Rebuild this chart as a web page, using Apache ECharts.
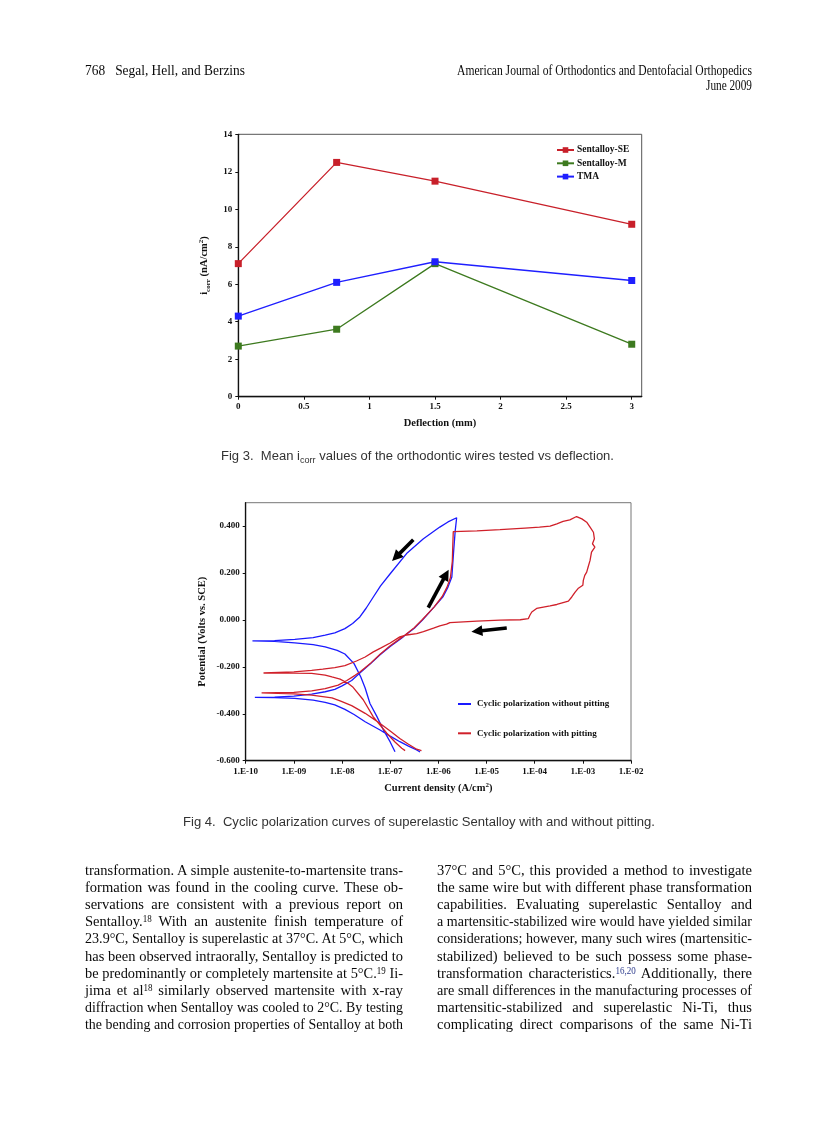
<!DOCTYPE html>
<html><head><meta charset="utf-8">
<script src="https://cdn.jsdelivr.net/npm/echarts@6/dist/echarts.min.js"></script>
<style>
html,body{margin:0;padding:0;background:#fff;}
#page{position:relative;width:838px;height:1122px;overflow:hidden;background:#fff;}
#chart{position:absolute;left:0;top:0;width:838px;height:1122px;}
.t{position:absolute;white-space:nowrap;color:#0a0a0a;}
.serif{font-family:'Liberation Serif','Times New Roman',serif;}
.sans{font-family:'Liberation Sans',Arial,sans-serif;}
.sup{font-size:0.62em;position:relative;top:-0.45em;line-height:0;}
.sub{font-size:0.7em;position:relative;top:0.3em;line-height:0;}
.ref{color:#2b3a8c;}
</style>
</head>
<body>
<div id="page">
  <div id="chart"></div>
  <div class="t serif" style="font-size:14px" data-x="85" data-y="70" data-w="160" data-lh="15">768&nbsp;&nbsp; Segal, Hell, and Berzins</div>
  <div class="t serif" style="font-size:14px" data-x="752" data-y="70" data-w="295" data-align="right" data-lh="15">American Journal of Orthodontics and Dentofacial Orthopedics</div>
  <div class="t serif" style="font-size:14px" data-x="752" data-y="85" data-w="46" data-align="right" data-lh="15">June 2009</div>
  <div class="t sans" style="font-size:12px;color:#333" data-x="417.5" data-y="456" data-w="393" data-align="center" data-lh="14">Fig 3.&nbsp; Mean i<span class="sub">corr</span> values of the orthodontic wires tested vs deflection.</div>
  <div class="t sans" style="font-size:12px;color:#333" data-x="419" data-y="822" data-w="472" data-align="center" data-lh="14">Fig 4.&nbsp; Cyclic polarization curves of superelastic Sentalloy with and without pitting.</div>
  <div id="body"></div>
</div>
<script>
// ---------------- Fig 3 data ----------------
const deflection = [0, 0.75, 1.5, 3];
const sentalloySE = [7.1, 12.5, 11.5, 9.2];
const sentalloyM = [2.7, 3.6, 7.1, 2.8];
const tma = [4.3, 6.1, 7.2, 6.2];
const fig3XTicks = [0, 0.5, 1, 1.5, 2, 2.5, 3];
const fig3YTicks = [0, 2, 4, 6, 8, 10, 12, 14];

// ---------------- Fig 4 data ----------------
// current density as log10(A/cm2), potential in V vs SCE, in scan order
const noPitLogI = [-6.38,-6.45,-6.62,-6.80,-7.00,-7.21,-7.52,-7.75,-7.94,-8.15,-8.35,-8.60,-8.98,-9.40,-9.81,
  -9.40,-9.00,-8.63,-8.35,-8.15,-8.00,-7.80,-7.63,-7.40,-7.21,-7.00,-6.73,-6.50,-6.33,-6.09,-5.90,-5.80,-5.72,-5.68,-5.65,-5.62,
  -5.80,-5.97,-6.31,-6.66,-7.00,-7.20,-7.35,-7.50,-7.63,-7.78,-7.94,-8.15,-8.35,-8.60,-8.98,-9.40,-9.86,
  -9.40,-8.98,-8.60,-8.35,-8.10,-7.94,-7.75,-7.61,-7.52,-7.42,-7.28,-7.14,-7.00,-6.90];
const noPitE = [-0.563,-0.554,-0.538,-0.519,-0.495,-0.469,-0.434,-0.403,-0.381,-0.362,-0.351,-0.342,-0.334,-0.331,-0.330,
  -0.329,-0.325,-0.316,-0.306,-0.296,-0.281,-0.258,-0.226,-0.185,-0.148,-0.113,-0.072,-0.035,0.000,0.055,0.100,0.140,0.183,0.300,0.380,0.436,
  0.418,0.396,0.346,0.283,0.197,0.145,0.098,0.050,0.013,-0.015,-0.037,-0.055,-0.065,-0.075,-0.083,-0.088,-0.089,
  -0.091,-0.098,-0.105,-0.115,-0.130,-0.145,-0.186,-0.243,-0.290,-0.356,-0.410,-0.469,-0.520,-0.562];
const pitLogI = [-6.35,-6.45,-6.62,-6.80,-7.00,-7.21,-7.52,-7.80,-8.04,-8.21,-8.63,-9.00,-9.67,
  -9.00,-8.63,-8.35,-8.08,-7.90,-7.73,-7.63,-7.40,-7.21,-7.00,-6.73,-6.50,-6.33,-6.09,-5.92,-5.82,-5.75,-5.71,-5.70,-5.69,
  -5.20,-4.72,-4.20,-3.90,-3.68,-3.54,-3.41,-3.27,-3.13,-3.02,-2.92,-2.85,-2.78,-2.76,-2.80,-2.75,-2.78,-2.82,-2.85,-2.89,-2.92,-2.96,-2.99,-3.00,
  -3.10,-3.16,-3.23,-3.30,-3.41,-3.54,-3.68,-3.82,-3.96,-4.06,-4.10,-4.13,-4.30,-4.72,-5.20,-5.76,
  -5.83,-5.97,-6.10,-6.31,-6.45,-6.66,-6.80,-7.00,-7.20,-7.35,-7.52,-7.70,-7.94,-8.15,-8.40,-8.63,-9.00,-9.63,
  -9.00,-8.63,-8.35,-8.21,-8.04,-7.87,-7.77,-7.56,-7.35,-7.07,-6.90,-6.76,-6.69];
const pitE = [-0.557,-0.551,-0.530,-0.505,-0.473,-0.441,-0.398,-0.365,-0.345,-0.332,-0.320,-0.315,-0.311,
  -0.309,-0.302,-0.293,-0.278,-0.258,-0.236,-0.222,-0.183,-0.146,-0.110,-0.070,-0.033,0.002,0.055,0.100,0.140,0.180,0.250,0.320,0.377,
  0.380,0.385,0.392,0.396,0.400,0.410,0.420,0.427,0.441,0.431,0.417,0.396,0.374,0.346,0.325,0.311,0.304,0.289,0.254,0.226,0.204,0.190,0.169,0.148,
  0.134,0.119,0.098,0.080,0.074,0.066,0.060,0.055,0.049,0.034,0.020,0.006,0.001,-0.001,-0.005,-0.011,
  -0.018,-0.025,-0.035,-0.050,-0.058,-0.064,-0.072,-0.098,-0.120,-0.136,-0.158,-0.175,-0.195,-0.203,-0.210,-0.215,-0.221,-0.226,
  -0.227,-0.228,-0.235,-0.243,-0.252,-0.271,-0.287,-0.340,-0.413,-0.483,-0.520,-0.547,-0.557];
const fig4XTicks = [-10, -9, -8, -7, -6, -5, -4, -3, -2];
const fig4YTicks = [-0.6, -0.4, -0.2, 0, 0.2, 0.4];
// scan-direction arrows: [tailLogI, tailE, headLogI, headE]
const arrowTailLogI = [-6.52, -6.21, -4.58];
const arrowTailE = [0.342, 0.053, -0.034];
const arrowHeadLogI = [-6.88, -5.84, -5.20];
const arrowHeadE = [0.268, 0.194, -0.048];

// ---------------- body text ----------------
const leftLines = [
 'transformation. A simple austenite-to-martensite trans-',
 'formation was found in the cooling curve. These ob-',
 'servations are consistent with a previous report on',
 'Sentalloy.<span class="sup">18</span> With an austenite finish temperature of',
 '23.9°C, Sentalloy is superelastic at 37°C. At 5°C, which',
 'has been observed intraorally, Sentalloy is predicted to',
 'be predominantly or completely martensite at 5°C.<span class="sup">19</span> Ii-',
 'jima et al<span class="sup">18</span> similarly observed martensite with x-ray',
 'diffraction when Sentalloy was cooled to 2°C. By testing',
 'the bending and corrosion properties of Sentalloy at both'];
const rightLines = [
 '37°C and 5°C, this provided a method to investigate',
 'the same wire but with different phase transformation',
 'capabilities. Evaluating superelastic Sentalloy and',
 'a martensitic-stabilized wire would have yielded similar',
 'considerations; however, many such wires (martensitic-',
 'stabilized) believed to be such possess some phase-',
 'transformation characteristics.<span class="sup ref">16,20</span> Additionally, there',
 'are small differences in the manufacturing processes of',
 'martensitic-stabilized and superelastic Ni-Ti, thus',
 'complicating direct comparisons of the same Ni-Ti'];

const bodyEl = document.getElementById('body');
function addLines(lines, x, w){
  lines.forEach((s, i) => {
    const d = document.createElement('div');
    d.className = 't serif';
    d.style.fontSize = '15px';
    d.innerHTML = s;
    d.dataset.x = x; d.dataset.y = 870 + i * 17.2; d.dataset.w = w;
    d.dataset.lh = 17; d.dataset.justify = '1'; d.dataset.max = '0.97';
    bodyEl.appendChild(d);
  });
}
addLines(leftLines, 85, 318);
addLines(rightLines, 437, 315);

function place(el){
  const x = +el.dataset.x, y = +el.dataset.y, w = +el.dataset.w;
  const align = el.dataset.align || 'left', lh = +el.dataset.lh || 14;
  el.style.lineHeight = lh + 'px';
  el.style.whiteSpace = 'nowrap';
  el.style.width = 'auto';
  el.style.left = '0px'; el.style.top = '0px';
  const nat = el.getBoundingClientRect().width;
  let sx;
  if (el.dataset.justify) {
    sx = Math.min(+el.dataset.max || 0.9, w / (nat + 1));
    el.style.whiteSpace = 'normal';
    el.style.width = (w / sx) + 'px';
    el.style.textAlign = 'justify';
    el.style.textAlignLast = 'justify';
  } else {
    sx = w / nat;
  }
  const left = align === 'right' ? x - w : (align === 'center' ? x - w / 2 : x);
  el.style.left = left + 'px';
  el.style.top = (y - lh / 2) + 'px';
  el.style.transformOrigin = '0 50%';
  el.style.transform = 'scaleX(' + sx + ')';
}
document.querySelectorAll('.t').forEach(place);

// ---------------- chart ----------------
const serif = "'Liberation Serif','Times New Roman',serif";
const ink = '#111';
const tickLbl = {fontFamily: serif, fontWeight: 'bold', fontSize: 9, color: ink};
const nameStyle = {fontFamily: serif, fontWeight: 'bold', fontSize: 10.5, color: ink};
const zip = (a, b) => a.map((v, i) => [v, b[i]]);

const chart = echarts.init(document.getElementById('chart'));
chart.setOption({
  animation: false,
  grid: [
    {left: 238.3, top: 134.3, width: 403.4, height: 262.4, show: true, borderColor: '#555', borderWidth: 1},
    {left: 245.7, top: 502.7, width: 385.3, height: 258, show: true, borderColor: '#777', borderWidth: 1}
  ],
  xAxis: [
    {gridIndex: 0, type: 'value', min: 0, max: 3.076,
     name: 'Deflection (mm)', nameLocation: 'middle', nameGap: 21, nameTextStyle: nameStyle,
     axisLine: {show: true, onZero: false, lineStyle: {color: ink, width: 1.3}},
     axisTick: {show: true, length: 3, customValues: fig3XTicks, lineStyle: {color: ink}},
     axisLabel: Object.assign({customValues: fig3XTicks, margin: 5, formatter: v => String(v)}, tickLbl),
     splitLine: {show: false}},
    {gridIndex: 1, type: 'value', min: -10, max: -2, interval: 1,
     name: '{t|Current density (A/cm}{sup|2}{t|)}', nameLocation: 'middle', nameGap: 21,
     nameTextStyle: Object.assign({rich: {t: Object.assign({lineHeight: 14}, nameStyle), sup: Object.assign({}, nameStyle, {fontSize: 7, lineHeight: 9, verticalAlign: 'top'})}}, nameStyle),
     axisLine: {show: true, onZero: false, lineStyle: {color: ink, width: 1.3}},
     axisTick: {show: true, length: 3, lineStyle: {color: ink}},
     axisLabel: Object.assign({margin: 6, formatter: v => '1.E-' + String(Math.round(-v)).padStart(2, '0')}, tickLbl),
     splitLine: {show: false}}
  ],
  yAxis: [
    {gridIndex: 0, type: 'value', min: 0, max: 14, interval: 2,
     name: '{t|i}{sub|corr}{t| (nA/cm}{sup|2}{t|)}', nameLocation: 'middle', nameGap: 27,
     nameTextStyle: Object.assign({rich: {
        t: Object.assign({lineHeight: 14}, nameStyle),
        sub: Object.assign({}, nameStyle, {fontSize: 7, lineHeight: 9, verticalAlign: 'bottom'}),
        sup: Object.assign({}, nameStyle, {fontSize: 7, lineHeight: 9, verticalAlign: 'top'})}}, nameStyle),
     axisLine: {show: true, onZero: false, lineStyle: {color: ink, width: 1.3}},
     axisTick: {show: true, length: 3, lineStyle: {color: ink}},
     axisLabel: Object.assign({margin: 6}, tickLbl),
     splitLine: {show: false}},
    {gridIndex: 1, type: 'value', min: -0.6, max: 0.5,
     name: 'Potential (Volts vs. SCE)', nameLocation: 'middle', nameGap: 38, nameTextStyle: nameStyle,
     axisLine: {show: true, onZero: false, lineStyle: {color: ink, width: 1.3}},
     axisTick: {show: true, length: 3, customValues: fig4YTicks, lineStyle: {color: ink}},
     axisLabel: Object.assign({customValues: fig4YTicks, margin: 6, formatter: v => v.toFixed(3)}, tickLbl),
     splitLine: {show: false}}
  ],
  legend: [
    {left: 556, top: 145, orient: 'vertical', padding: 0, itemGap: 3.3, itemWidth: 17, itemHeight: 7,
     textStyle: {fontFamily: serif, fontWeight: 'bold', fontSize: 9.5, color: ink, lineHeight: 10, padding: [0, 0, 0, -2]},
     data: ['Sentalloy-SE', 'Sentalloy-M', 'TMA']},
    {left: 458, top: 699, orient: 'vertical', padding: 0, itemGap: 19.3, itemWidth: 13, itemHeight: 2,
     textStyle: {fontFamily: serif, fontWeight: 'bold', fontSize: 9, color: ink, lineHeight: 10, padding: [0, 0, 0, 1]},
     data: [{name: 'Cyclic polarization without pitting', icon: 'rect'}, {name: 'Cyclic polarization with pitting', icon: 'rect'}]}
  ],
  series: [
    {name: 'Sentalloy-SE', type: 'line', xAxisIndex: 0, yAxisIndex: 0, data: zip(deflection, sentalloySE),
     symbol: 'rect', symbolSize: 7, color: '#c8202a', lineStyle: {width: 1.3}},
    {name: 'Sentalloy-M', type: 'line', xAxisIndex: 0, yAxisIndex: 0, data: zip(deflection, sentalloyM),
     symbol: 'rect', symbolSize: 7, color: '#3d7a1f', lineStyle: {width: 1.3}},
    {name: 'TMA', type: 'line', xAxisIndex: 0, yAxisIndex: 0, data: zip(deflection, tma),
     symbol: 'rect', symbolSize: 7, color: '#1f1fff', lineStyle: {width: 1.3}},
    {name: 'Cyclic polarization without pitting', type: 'line', xAxisIndex: 1, yAxisIndex: 1,
     data: zip(noPitLogI, noPitE), symbol: 'none', showSymbol: false, color: '#1a1aff', lineStyle: {width: 1.3}},
    {name: 'Cyclic polarization with pitting', type: 'line', xAxisIndex: 1, yAxisIndex: 1,
     data: zip(pitLogI, pitE), symbol: 'none', showSymbol: false, color: '#d0202a', lineStyle: {width: 1.3}},
    {type: 'lines', coordinateSystem: 'cartesian2d', xAxisIndex: 1, yAxisIndex: 1,
     symbol: ['none', 'triangle'], symbolSize: [0, 11],
     lineStyle: {color: '#000', width: 3.6, opacity: 1},
     data: arrowTailLogI.map((v, i) => ({coords: [[v, arrowTailE[i]], [arrowHeadLogI[i], arrowHeadE[i]]]}))}
  ]
});
</script>
</body></html>
